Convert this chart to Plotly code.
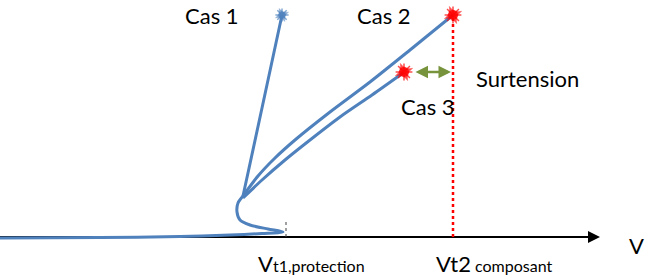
import plotly.graph_objects as go

W, H = 649, 280
def Y(p):  # convert picture row to upward value
    return [H - v for v in p]

# Common snapback base (V, I)
base_v = [0, 100, 180, 230, 262, 283, 268, 250, 240, 237, 238, 243]
base_i = Y([238, 237.5, 236.5, 235, 233.5, 232, 229, 225, 220, 212, 203, 196])

cas1_v = [243, 262, 282]
cas1_i = Y([196, 108, 15])
cas2_v = [243, 258, 275, 295, 330, 370, 410, 453]
cas2_i = Y([196, 176, 158, 140, 112, 82, 50, 15])
cas3_v = [243, 262, 285, 310, 340, 372, 403]
cas3_i = Y([198, 180, 160, 140, 117, 95, 73])

end_v = [282, 453, 404]
end_i = Y([15, 15, 72])
end_col = ["#4F81BD", "#FF0000", "#FF0000"]
end_size = [7, 10, 10]

vt1 = 286
vt2 = 453
axis_y = H - 237
axis_end = 600

blue = "#4F81BD"
fig = go.Figure()

fig.add_trace(go.Scatter(x=[0, axis_end - 8], y=[axis_y, axis_y], mode="lines",
                         line=dict(color="black", width=2)))
for xs, ys in [(base_v, base_i), (cas1_v, cas1_i), (cas2_v, cas2_i), (cas3_v, cas3_i)]:
    fig.add_trace(go.Scatter(x=xs, y=ys, mode="lines",
                             line=dict(color=blue, width=3, shape="spline", smoothing=0.8)))

fig.add_trace(go.Scatter(x=[vt2, vt2], y=[axis_y, H - 15], mode="lines",
                         line=dict(color="#FF0000", width=2.5, dash="dot")))
fig.add_trace(go.Scatter(x=[vt1, vt1], y=[axis_y, H - 219], mode="lines",
                         line=dict(color="#404040", width=1, dash="dot")))

# starburst end markers
fig.add_trace(go.Scatter(x=end_v, y=end_i, mode="markers",
                         marker=dict(symbol="circle", size=end_size, color=end_col,
                                     line=dict(width=0))))
fig.add_trace(go.Scatter(x=end_v, y=end_i, mode="markers",
                         marker=dict(symbol="asterisk-open", size=[s + 4 for s in end_size],
                                     color=end_col, line=dict(color=end_col, width=1.5))))
fig.add_trace(go.Scatter(x=end_v, y=end_i, mode="markers",
                         marker=dict(symbol="star-square", size=[s + 2 for s in end_size],
                                     angle=22, color=end_col,
                                     line=dict(color=end_col, width=0.5))))

# axis arrow head
fig.add_annotation(x=axis_end, y=axis_y, ax=axis_end - 30, ay=axis_y, xref="x", yref="y",
                   axref="x", ayref="y", text="", showarrow=True, arrowhead=2,
                   arrowsize=1.2, arrowwidth=2, arrowcolor="black")
# green double arrow
fig.add_annotation(x=451, y=H - 72, ax=414, ay=H - 72, xref="x", yref="y",
                   axref="x", ayref="y", text="", showarrow=True, arrowhead=2,
                   arrowside="end+start", arrowsize=1, arrowwidth=2.5, arrowcolor="#77933C")

font = dict(family="Lato, Carlito, Calibri, sans-serif", size=22, color="black")
labels = [
    (212, 15, "Cas 1"),
    (384, 15, "Cas 2"),
    (428, 106, "Cas 3"),
    (527, 78, "Surtension"),
    (636, 245, "V"),
]
for x, y, t in labels:
    fig.add_annotation(x=x, y=H - y, text=t, showarrow=False, font=font,
                       xref="x", yref="y")
fig.add_annotation(x=256, y=H - 263, xanchor="left", showarrow=False, font=font,
                   text="V<span style='font-size:16px'>t1,protection</span>")
fig.add_annotation(x=434, y=H - 263, xanchor="left", showarrow=False, font=font,
                   text="Vt2<span style='font-size:16px'> composant</span>")

fig.update_layout(width=W, height=H, margin=dict(l=0, r=0, t=0, b=0),
                  paper_bgcolor="white", plot_bgcolor="white", showlegend=False)
fig.update_xaxes(range=[0, W], visible=False, fixedrange=True)
fig.update_yaxes(range=[0, H], visible=False, fixedrange=True)
fig.write_html("out.html")
